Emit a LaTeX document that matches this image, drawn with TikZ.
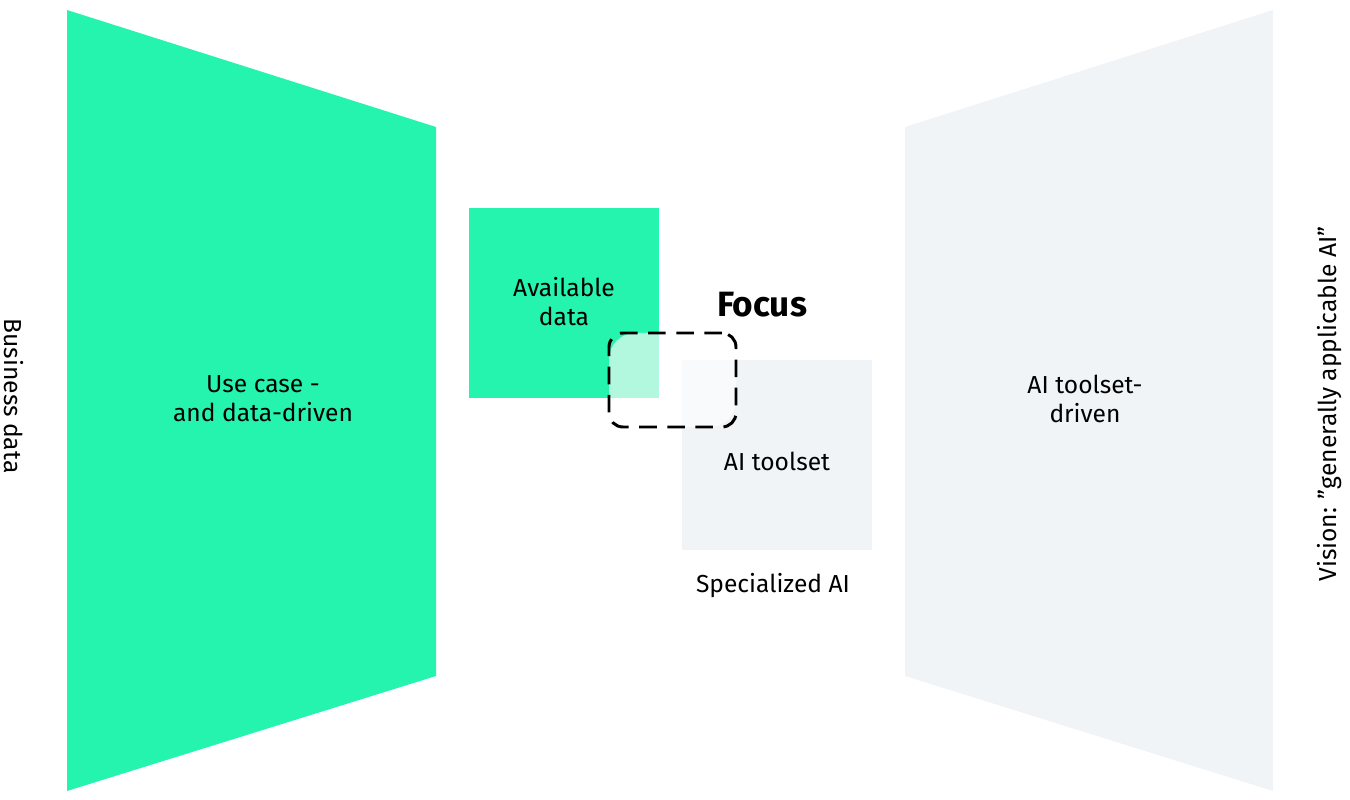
\documentclass[tikz,border=0pt]{standalone}
\usepackage{fontspec}
\setmainfont{Fira Sans}
\definecolor{mint}{HTML}{25F4AE}
\definecolor{lmint}{HTML}{B2F8DF}
\definecolor{pale}{HTML}{F0F4F7}
\definecolor{lpale}{HTML}{F8FAFC}
\begin{document}
\begin{tikzpicture}[x=0.02cm,y=-0.02cm,
  lbl/.style={font=\fontsize{14}{16.5}\selectfont,align=center,text=black}]
\useasboundingbox (0,0) rectangle (1350,800);
\fill[mint] (67,10) -- (436,127) -- (436,676) -- (67,791) -- cycle;
\fill[pale] (905,127) -- (1273,10) -- (1273,791) -- (905,676) -- cycle;
\fill[mint] (469,208) rectangle (659,398);
\fill[pale] (682,360) rectangle (872,550);
\begin{scope}
\clip[rounded corners=15] (609,333) rectangle (736,427);
\fill[lmint] (469,208) rectangle (659,398);
\fill[lpale] (682,360) rectangle (872,550);
\end{scope}
\node[draw=black,line width=1.7pt,dash pattern=on 10pt off 6pt,rounded corners=8pt,minimum width=127*0.02cm,minimum height=94*0.02cm] (focusbox) at (672.5,380) {};
\node[lbl] (avail) at (564,302) {Available\\data};
\node[font=\bfseries\fontsize{20}{24}\selectfont] (focus) at (762,305) {Focus};
\node[lbl] (tool) at (777,461) {AI toolset};
\node[lbl] (spec) at (773,586) {Specialized AI};
\node[lbl] (use) at (263,399) {Use case -\\and data-driven};
\node[lbl] (drv) at (1085,399) {AI toolset-\\driven};
\node[lbl,rotate=-90] (bus) at (14,396) {Business data};
\node[lbl,rotate=90] (vis) at (1330,404) {Vision: "generally applicable AI"};
\end{tikzpicture}
\end{document}
